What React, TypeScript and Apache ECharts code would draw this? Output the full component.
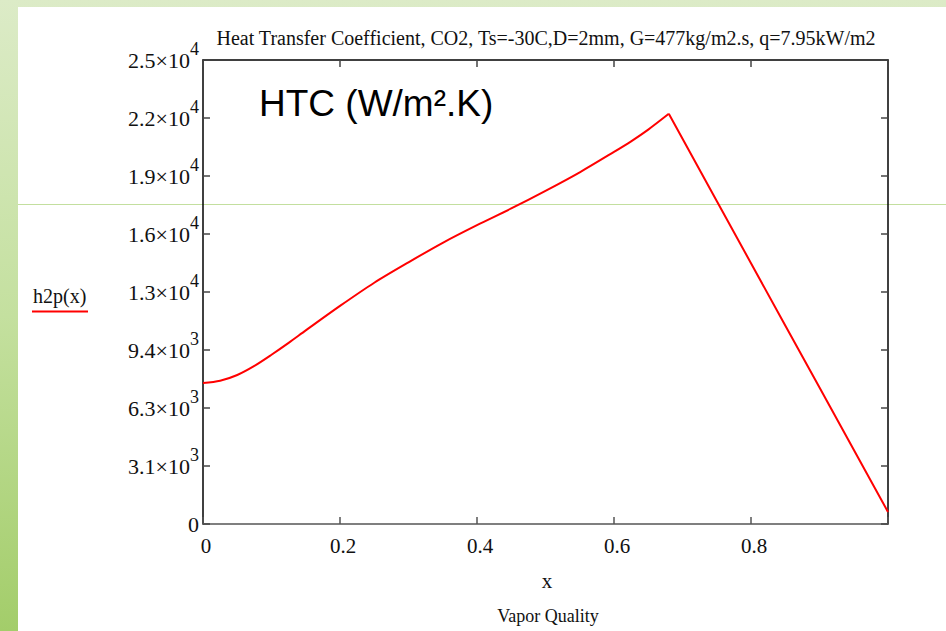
import React, { useEffect, useRef } from "react";
import * as echarts from "echarts";

// Vapor quality samples and the two-phase heat transfer coefficient h2p(x), W/m2.K
const vaporQuality = [0, 0.025, 0.05, 0.075, 0.1, 0.125, 0.15, 0.2, 0.25, 0.3, 0.35, 0.4, 0.45, 0.5, 0.55, 0.6, 0.625, 0.65, 0.68, 0.75, 0.8, 0.85, 0.9, 0.95, 1.0];
const h2p = [7600, 7720, 8030, 8520, 9120, 9760, 10430, 11750, 13000, 14100, 15150, 16100, 17000, 17950, 18950, 20050, 20620, 21250, 22100, 17400, 14050, 10700, 7350, 4000, 650];
// index of the dryout peak, where the curve turns into a straight decline
const PEAK_INDEX = 18;

// Tick labels
const xTickLabels = ["0", "0.2", "0.4", "0.6", "0.8", ""];
const yTickMantissa = ["0", "3.1", "6.3", "9.4", "1.3", "1.6", "1.9", "2.2", "2.5"];
const yTickExponent = ["", "3", "3", "3", "4", "4", "4", "4", "4"];

const Y_MAX = 25000;
const Y_STEP = 3125;
const SERIF = "'Liberation Serif', 'Times New Roman', serif";
const SANS = "'Liberation Sans', Arial, sans-serif";

export default function App() {
  const ref = useRef<HTMLDivElement>(null);

  useEffect(() => {
    if (!ref.current) return;
    const chart = echarts.init(ref.current, null, { renderer: "svg" });

    const points = vaporQuality.map((x, i) => [x, h2p[i]]);
    const rising = points.slice(0, PEAK_INDEX + 1);
    const falling = points.slice(PEAK_INDEX);

    const axisTextStyle = {
      fontFamily: SERIF,
      color: "#111",
    };

    const option: any = {
      animation: false,
      backgroundColor: "transparent",
      grid: { left: 203, right: 58, top: 60, bottom: 107, containLabel: false },
      xAxis: [
        {
          type: "value",
          position: "bottom",
          min: 0,
          max: 1,
          interval: 0.2,
          axisLine: { show: true, onZero: false, lineStyle: { color: "#555", width: 1.5 } },
          axisTick: { show: true, inside: true, length: 7, lineStyle: { color: "#555", width: 1.5 } },
          splitLine: { show: false },
          axisLabel: {
            ...axisTextStyle,
            margin: 11,
            fontSize: 21,
            padding: [0, 0, 0, 6],
            formatter: (v: number) => xTickLabels[Math.round(v / 0.2)] ?? "",
          },
        },
        {
          type: "value",
          position: "top",
          min: 0,
          max: 1,
          interval: 0.2,
          axisLine: { show: true, onZero: false, lineStyle: { color: "#000", width: 1.5 } },
          axisTick: { show: true, inside: true, length: 7, lineStyle: { color: "#444", width: 1.5 } },
          splitLine: { show: false },
          axisLabel: { show: false },
        },
      ],
      yAxis: [
        {
          type: "value",
          position: "left",
          min: 0,
          max: Y_MAX,
          interval: Y_STEP,
          axisLine: { show: true, onZero: false, lineStyle: { color: "#000", width: 1.5 } },
          axisTick: { show: true, inside: true, length: 7, lineStyle: { color: "#444", width: 1.5 } },
          splitLine: { show: false },
          axisLabel: {
            margin: 4,
            formatter: (v: number) => {
              const i = Math.round(v / Y_STEP);
              const m = yTickMantissa[i] ?? "";
              const e = yTickExponent[i] ?? "";
              if (!e) return `{b|${m}}`;
              return `{b|${m}×10}{s|${e}}`;
            },
            rich: {
              b: { ...axisTextStyle, fontSize: 22, lineHeight: 22 },
              s: { ...axisTextStyle, fontSize: 18, lineHeight: 18, padding: [0, 0, 22, 0] },
            },
          },
        },
        {
          type: "value",
          position: "right",
          min: 0,
          max: Y_MAX,
          interval: Y_STEP,
          axisLine: { show: true, onZero: false, lineStyle: { color: "#000", width: 1.5 } },
          axisTick: { show: true, inside: true, length: 7, lineStyle: { color: "#444", width: 1.5 } },
          splitLine: { show: false },
          axisLabel: { show: false },
        },
      ],
      series: [
        {
          name: "h2p(x)",
          type: "line",
          xAxisIndex: 0,
          yAxisIndex: 0,
          data: rising,
          showSymbol: false,
          smooth: 0.3,
          lineStyle: { color: "#ff0000", width: 2 },
          z: 5,
        },
        {
          name: "h2p(x)",
          type: "line",
          xAxisIndex: 0,
          yAxisIndex: 0,
          data: falling,
          showSymbol: false,
          smooth: false,
          lineStyle: { color: "#ff0000", width: 2, join: "miter" },
          z: 5,
        },
      ],
      graphic: [
        // slide backdrop: green gradient frame and white panel
        {
          type: "rect",
          z: -10,
          shape: { x: 0, y: 0, width: 946, height: 631 },
          style: {
            fill: new echarts.graphic.LinearGradient(0, 0, 0, 1, [
              { offset: 0, color: "#dcebc7" },
              { offset: 0.5, color: "#c4e09f" },
              { offset: 1, color: "#a3cd6a" },
            ]),
          },
          silent: true,
        },
        {
          type: "rect",
          z: -9,
          shape: { x: 18, y: 7, width: 928, height: 624 },
          style: { fill: "#ffffff" },
          silent: true,
        },
        {
          type: "line",
          z: -8,
          shape: { x1: 18, y1: 204.5, x2: 946, y2: 204.5 },
          style: { stroke: "#c3df9f", lineWidth: 1 },
          silent: true,
        },
        // title
        {
          type: "text",
          x: 546,
          y: 38,
          style: {
            text: "Heat Transfer Coefficient, CO2, Ts=-30C,D=2mm, G=477kg/m2.s, q=7.95kW/m2",
            font: `20px ${SERIF}`,
            fill: "#111",
            align: "center",
            verticalAlign: "middle",
            textAlign: "center",
            textVerticalAlign: "middle",
          },
        },
        // annotation inside the plot
        {
          type: "text",
          x: 259,
          y: 103,
          style: {
            text: "HTC (W/m².K)",
            font: `37px ${SANS}`,
            fill: "#000",
            align: "left",
            verticalAlign: "middle",
            textAlign: "left",
            textVerticalAlign: "middle",
          },
        },
        // trace legend
        {
          type: "text",
          x: 33,
          y: 296,
          style: {
            text: "h2p(x)",
            font: `20px ${SERIF}`,
            fill: "#111",
            align: "left",
            verticalAlign: "middle",
            textAlign: "left",
            textVerticalAlign: "middle",
          },
        },
        {
          type: "line",
          shape: { x1: 32, y1: 311.5, x2: 88, y2: 311.5 },
          style: { stroke: "#ff0000", lineWidth: 2 },
        },
        // axis names
        {
          type: "text",
          x: 547,
          y: 581,
          style: {
            text: "x",
            font: `21px ${SERIF}`,
            fill: "#111",
            align: "center",
            verticalAlign: "middle",
            textAlign: "center",
            textVerticalAlign: "middle",
          },
        },
        {
          type: "text",
          x: 548,
          y: 616,
          style: {
            text: "Vapor Quality",
            font: `18px ${SERIF}`,
            fill: "#111",
            align: "center",
            verticalAlign: "middle",
            textAlign: "center",
            textVerticalAlign: "middle",
          },
        },
      ],
    };

    chart.setOption(option);
    return () => chart.dispose();
  }, []);

  return (
    <div
      ref={ref}
      style={{ position: "absolute", left: 0, top: 0, width: 946, height: 631 }}
    />
  );
}
